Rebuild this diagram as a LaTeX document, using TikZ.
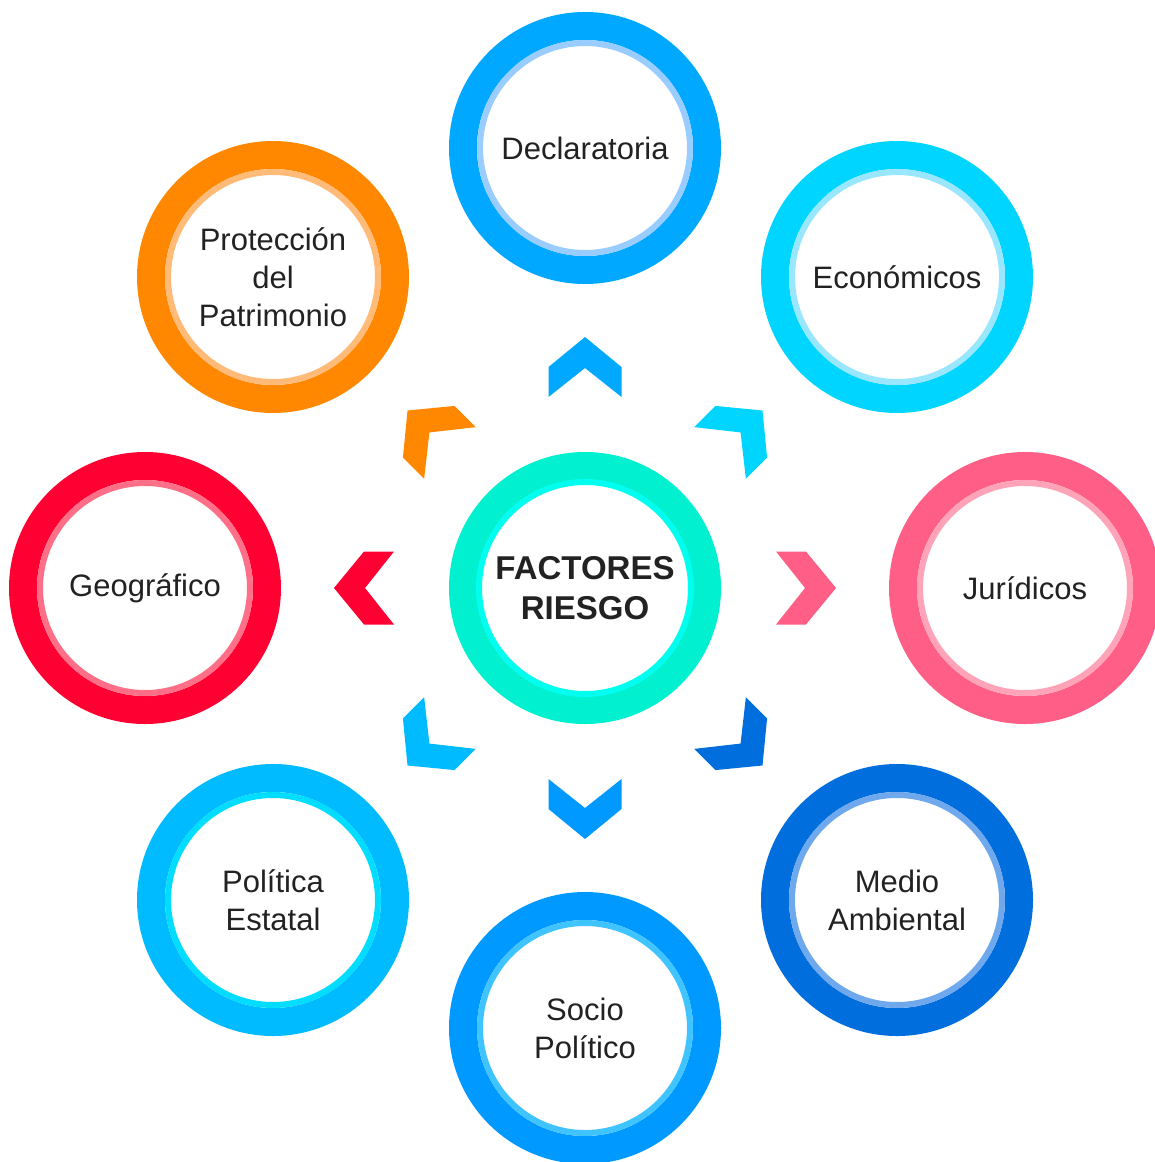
\documentclass[tikz,border=0pt]{standalone}
\usepackage{fontspec}
\setmainfont{Liberation Sans}
\usepackage{tikz}

\definecolor{declC}{HTML}{00A8FF}\definecolor{declL}{HTML}{99CCFF}
\definecolor{econC}{HTML}{00D5FF}\definecolor{econL}{HTML}{99E6FF}
\definecolor{juriC}{HTML}{FF5F87}\definecolor{juriL}{HTML}{FFA3B8}
\definecolor{mediC}{HTML}{006EDD}\definecolor{mediL}{HTML}{6FA8EC}
\definecolor{sociC}{HTML}{0099FF}\definecolor{sociL}{HTML}{40C4FF}
\definecolor{poliC}{HTML}{00BBFF}\definecolor{poliL}{HTML}{00DDFF}
\definecolor{geogC}{HTML}{FF0033}\definecolor{geogL}{HTML}{FF7088}
\definecolor{protC}{HTML}{FF8800}\definecolor{protL}{HTML}{FFBB77}
\definecolor{factC}{HTML}{00F0D0}\definecolor{factL}{HTML}{00FFEE}
\definecolor{txt}{HTML}{222222}

\begin{document}
\begin{tikzpicture}[x=1pt,y=-1pt,
  ring/.style={circle,draw=#1,line width=28pt,minimum size=244pt,inner sep=0pt,
    align=center,text=txt,font=\fontsize{31}{38}\selectfont},
  band/.style={draw=#1,line width=6pt},
  chev/.style={fill=#1}]
\useasboundingbox (0,0) rectangle (1154,1162);

% centre
\node[ring=factC,font=\fontsize{33}{40}\selectfont\bfseries](f) at (585,588) {FACTORES\\RIESGO};
\draw[band=factL] (f.center) circle (106pt);

% outer ring of factors
\node[ring=declC](d) at (585,148) {Declaratoria};
\node[ring=econC](e) at (897,277) {Económicos};
\node[ring=juriC](j) at (1025,588) {Jurídicos};
\node[ring=mediC](m) at (897,900) {Medio\\Ambiental};
\node[ring=sociC](s) at (585,1028) {Socio\\Político};
\node[ring=poliC](p) at (273,900) {Política\\Estatal};
\node[ring=geogC](g) at (145,588) {Geográfico};
\node[ring=protC](pr) at (273,277) {Protección\\del\\Patrimonio};
\draw[band=declL] (d.center) circle (105pt);
\draw[band=econL] (e.center) circle (105pt);
\draw[band=juriL] (j.center) circle (105pt);
\draw[band=mediL] (m.center) circle (105pt);
\draw[band=sociL] (s.center) circle (105pt);
\draw[band=poliL] (p.center) circle (105pt);
\draw[band=geogL] (g.center) circle (105pt);
\draw[band=protL] (pr.center) circle (105pt);

% chevrons
\fill[chev=declC,shift={(f.center)},rotate=0] (0,-251) -- (36.5,-221) -- (36.5,-191) -- (0,-220) -- (-36.5,-191) -- (-36.5,-221) -- cycle;
\fill[chev=econC,shift={(f.center)},rotate=-45] (0,-251) -- (36.5,-221) -- (36.5,-191) -- (0,-220) -- (-36.5,-191) -- (-36.5,-221) -- cycle;
\fill[chev=juriC,shift={(f.center)},rotate=-90] (0,-251) -- (36.5,-221) -- (36.5,-191) -- (0,-220) -- (-36.5,-191) -- (-36.5,-221) -- cycle;
\fill[chev=mediC,shift={(f.center)},rotate=-135] (0,-251) -- (36.5,-221) -- (36.5,-191) -- (0,-220) -- (-36.5,-191) -- (-36.5,-221) -- cycle;
\fill[chev=sociC,shift={(f.center)},rotate=180] (0,-251) -- (36.5,-221) -- (36.5,-191) -- (0,-220) -- (-36.5,-191) -- (-36.5,-221) -- cycle;
\fill[chev=poliC,shift={(f.center)},rotate=135] (0,-251) -- (36.5,-221) -- (36.5,-191) -- (0,-220) -- (-36.5,-191) -- (-36.5,-221) -- cycle;
\fill[chev=geogC,shift={(f.center)},rotate=90] (0,-251) -- (36.5,-221) -- (36.5,-191) -- (0,-220) -- (-36.5,-191) -- (-36.5,-221) -- cycle;
\fill[chev=protC,shift={(f.center)},rotate=45] (0,-251) -- (36.5,-221) -- (36.5,-191) -- (0,-220) -- (-36.5,-191) -- (-36.5,-221) -- cycle;

\end{tikzpicture}
\end{document}
